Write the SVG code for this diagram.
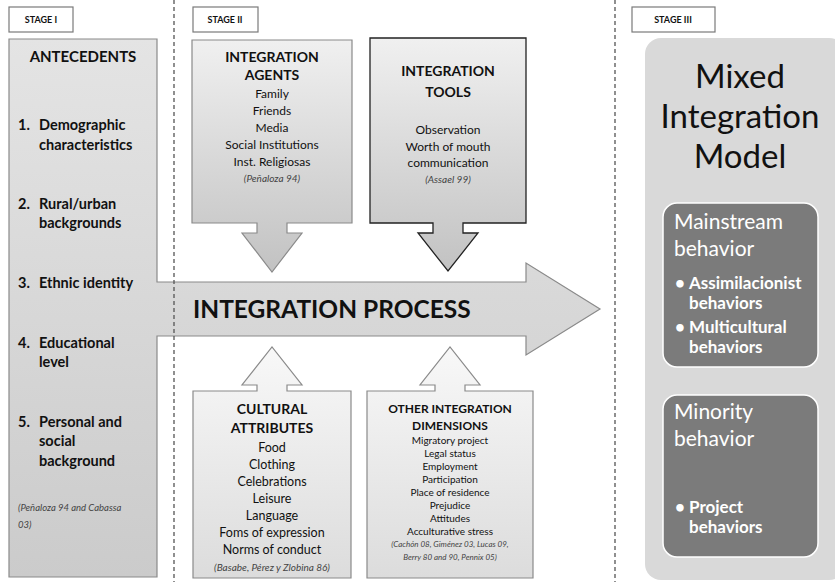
<svg xmlns="http://www.w3.org/2000/svg" width="835" height="582" viewBox="0 0 835 582">
<defs>
<linearGradient id="gAnt" x1="0" y1="0" x2="0" y2="1"><stop offset="0" stop-color="#e4e4e4"/><stop offset="1" stop-color="#cbcbcb"/></linearGradient>
<linearGradient id="gTop" x1="0" y1="0" x2="0" y2="1"><stop offset="0" stop-color="#f0f0f0"/><stop offset="1" stop-color="#c2c2c2"/></linearGradient>
<linearGradient id="gBot" x1="0" y1="0" x2="0" y2="1"><stop offset="0" stop-color="#f8f8f8"/><stop offset="1" stop-color="#dcdcdc"/></linearGradient>
</defs>
<style>
text{font-family:Lato,"Open Sans","Liberation Sans",sans-serif;fill:#111}
.stage{fill:#fff;stroke:#7a7a7a;stroke-width:1.2}
.st{font-size:9px;font-weight:bold;text-anchor:middle}
.h{font-size:14px;font-weight:bold;text-anchor:middle}
.it{font-size:12px;text-anchor:middle}
.ci{font-size:10px;font-style:italic;text-anchor:middle;fill:#444}
.ant{font-size:14.5px;font-weight:bold}
.dash{stroke:#555;stroke-width:1.3;stroke-dasharray:4 3;fill:none}
.wt{fill:#fff}
.big{font-size:33px;text-anchor:middle}
.sub{font-size:21px}
.bul{font-size:17px;font-weight:bold}
</style>
<g id="stages">
<rect class="stage" x="9" y="7" width="64" height="25"/><text class="st" x="41" y="23">STAGE I</text>
<rect class="stage" x="193" y="7" width="65" height="25"/><text class="st" x="225" y="23">STAGE II</text>
<rect class="stage" x="632" y="7" width="83" height="25"/><text class="st" x="673" y="23">STAGE III</text>
</g>
<g id="antecedents">
<path d="M9,39 H157 V282 H526 V263 L600,309 L526,355 V336 H157 V577 H9 Z" fill="url(#gAnt)" stroke="#8a8a8a" stroke-width="1.2"/>
<text class="h" x="83" y="62" style="font-size:15px">ANTECEDENTS</text>
<text class="ant" x="18" y="130">1.</text><text class="ant" x="39" y="130">Demographic</text>
<text class="ant" x="39" y="150">characteristics</text>
<text class="ant" x="18" y="209">2.</text><text class="ant" x="39" y="209">Rural/urban</text>
<text class="ant" x="39" y="228">backgrounds</text>
<text class="ant" x="18" y="288">3.</text><text class="ant" x="39" y="288">Ethnic identity</text>
<text class="ant" x="18" y="348">4.</text><text class="ant" x="39" y="348">Educational</text>
<text class="ant" x="39" y="367">level</text>
<text class="ant" x="18" y="427">5.</text><text class="ant" x="39" y="427">Personal and</text>
<text class="ant" x="39" y="446">social</text>
<text class="ant" x="39" y="466">background</text>
<text x="18" y="511" style="font-size:9.5px;font-style:italic;fill:#444">(Peñaloza 94 and Cabassa</text>
<text x="18" y="528" style="font-size:9.5px;font-style:italic;fill:#444">03)</text>
<text x="193" y="318" style="font-size:24.5px;font-weight:bold">INTEGRATION PROCESS</text>
</g>
<g id="agents">
<path d="M192,40 H352 V223 H287 V233 H302 L272,272 L242,233 H257 V223 H192 Z" fill="url(#gTop)" stroke="#8a8a8a" stroke-width="1.2"/>
<text class="h" x="272" y="62">INTEGRATION</text>
<text class="h" x="272" y="80">AGENTS</text>
<text class="it" x="272" y="98">Family</text>
<text class="it" x="272" y="115">Friends</text>
<text class="it" x="272" y="132">Media</text>
<text class="it" x="272" y="149">Social Institutions</text>
<text class="it" x="272" y="166">Inst. Religiosas</text>
<text class="ci" x="272" y="182">(Peñaloza 94)</text>
</g>
<g id="tools">
<path d="M370,38 H526 V223 H463 V233 H478 L448,271 L418,233 H433 V223 H370 Z" fill="url(#gTop)" stroke="#222" stroke-width="1.3"/>
<text class="h" x="448" y="76">INTEGRATION</text>
<text class="h" x="448" y="97">TOOLS</text>
<text class="it" x="448" y="134">Observation</text>
<text class="it" x="448" y="151">Worth of mouth</text>
<text class="it" x="448" y="167">communication</text>
<text class="ci" x="448" y="183">(Assael 99)</text>
</g>
<g id="cultural">
<path d="M193,391 H257 V385 H242 L272,347 L302,385 H287 V391 H351 V578 H193 Z" fill="url(#gBot)" stroke="#8a8a8a" stroke-width="1.2"/>
<text class="h" x="272" y="414">CULTURAL</text>
<text class="h" x="272" y="433">ATTRIBUTES</text>
<text class="it" x="272" y="452" style="font-size:12.5px">Food</text>
<text class="it" x="272" y="469" style="font-size:12.5px">Clothing</text>
<text class="it" x="272" y="486" style="font-size:12.5px">Celebrations</text>
<text class="it" x="272" y="503" style="font-size:12.5px">Leisure</text>
<text class="it" x="272" y="520" style="font-size:12.5px">Language</text>
<text class="it" x="272" y="537" style="font-size:12.5px">Foms of expression</text>
<text class="it" x="272" y="554" style="font-size:12.5px">Norms of conduct</text>
<text class="ci" x="272" y="571">(Basabe, Pérez y Zlobina 86)</text>
</g>
<g id="other">
<path d="M367,391 H435 V385 H420 L450,347 L480,385 H465 V391 H533 V578 H367 Z" fill="url(#gBot)" stroke="#8a8a8a" stroke-width="1.2"/>
<text class="h" x="450" y="413" style="font-size:12px">OTHER INTEGRATION</text>
<text class="h" x="450" y="430" style="font-size:12px">DIMENSIONS</text>
<text class="it" x="450" y="444" style="font-size:10px">Migratory project</text>
<text class="it" x="450" y="457" style="font-size:10px">Legal status</text>
<text class="it" x="450" y="470" style="font-size:10px">Employment</text>
<text class="it" x="450" y="483" style="font-size:10px">Participation</text>
<text class="it" x="450" y="496" style="font-size:10px">Place of residence</text>
<text class="it" x="450" y="509" style="font-size:10px">Prejudice</text>
<text class="it" x="450" y="522" style="font-size:10px">Attitudes</text>
<text class="it" x="450" y="535" style="font-size:10px">Acculturative stress</text>
<text class="ci" x="450" y="547" style="font-size:8px">(Cachón 08, Giménez 03, Lucas 09,</text>
<text class="ci" x="450" y="560" style="font-size:8px">Berry 80 and 90, Pennix 05)</text>
</g>
<g id="model">
<rect x="645" y="38" width="200" height="542" rx="16" fill="#d9d9d9"/>
<text class="big" x="740" y="88">Mixed</text>
<text class="big" x="740" y="128">Integration</text>
<text class="big" x="740" y="168">Model</text>
</g>
<g id="mainstream">
<rect x="663" y="203" width="155" height="164" rx="14" fill="#7b7b7b" stroke="#fff" stroke-width="1.5"/>
<text class="wt sub" x="674" y="229">Mainstream</text>
<text class="wt sub" x="674" y="256">behavior</text>
<text class="wt bul" x="675" y="289">•</text>
<text class="wt bul" x="689" y="289">Assimilacionist</text>
<text class="wt bul" x="689" y="309">behaviors</text>
<text class="wt bul" x="675" y="333">•</text>
<text class="wt bul" x="689" y="333">Multicultural</text>
<text class="wt bul" x="689" y="353">behaviors</text>
</g>
<g id="minority">
<rect x="663" y="395" width="155" height="162" rx="14" fill="#7b7b7b" stroke="#fff" stroke-width="1.5"/>
<text class="wt sub" x="674" y="419">Minority</text>
<text class="wt sub" x="674" y="446">behavior</text>
<text class="wt bul" x="675" y="513">•</text>
<text class="wt bul" x="689" y="513">Project</text>
<text class="wt bul" x="689" y="533">behaviors</text>
</g>
<g id="connectors">
<line class="dash" x1="174" y1="0" x2="174" y2="582"/>
<line class="dash" x1="615" y1="0" x2="615" y2="582"/>
</g>
</svg>
